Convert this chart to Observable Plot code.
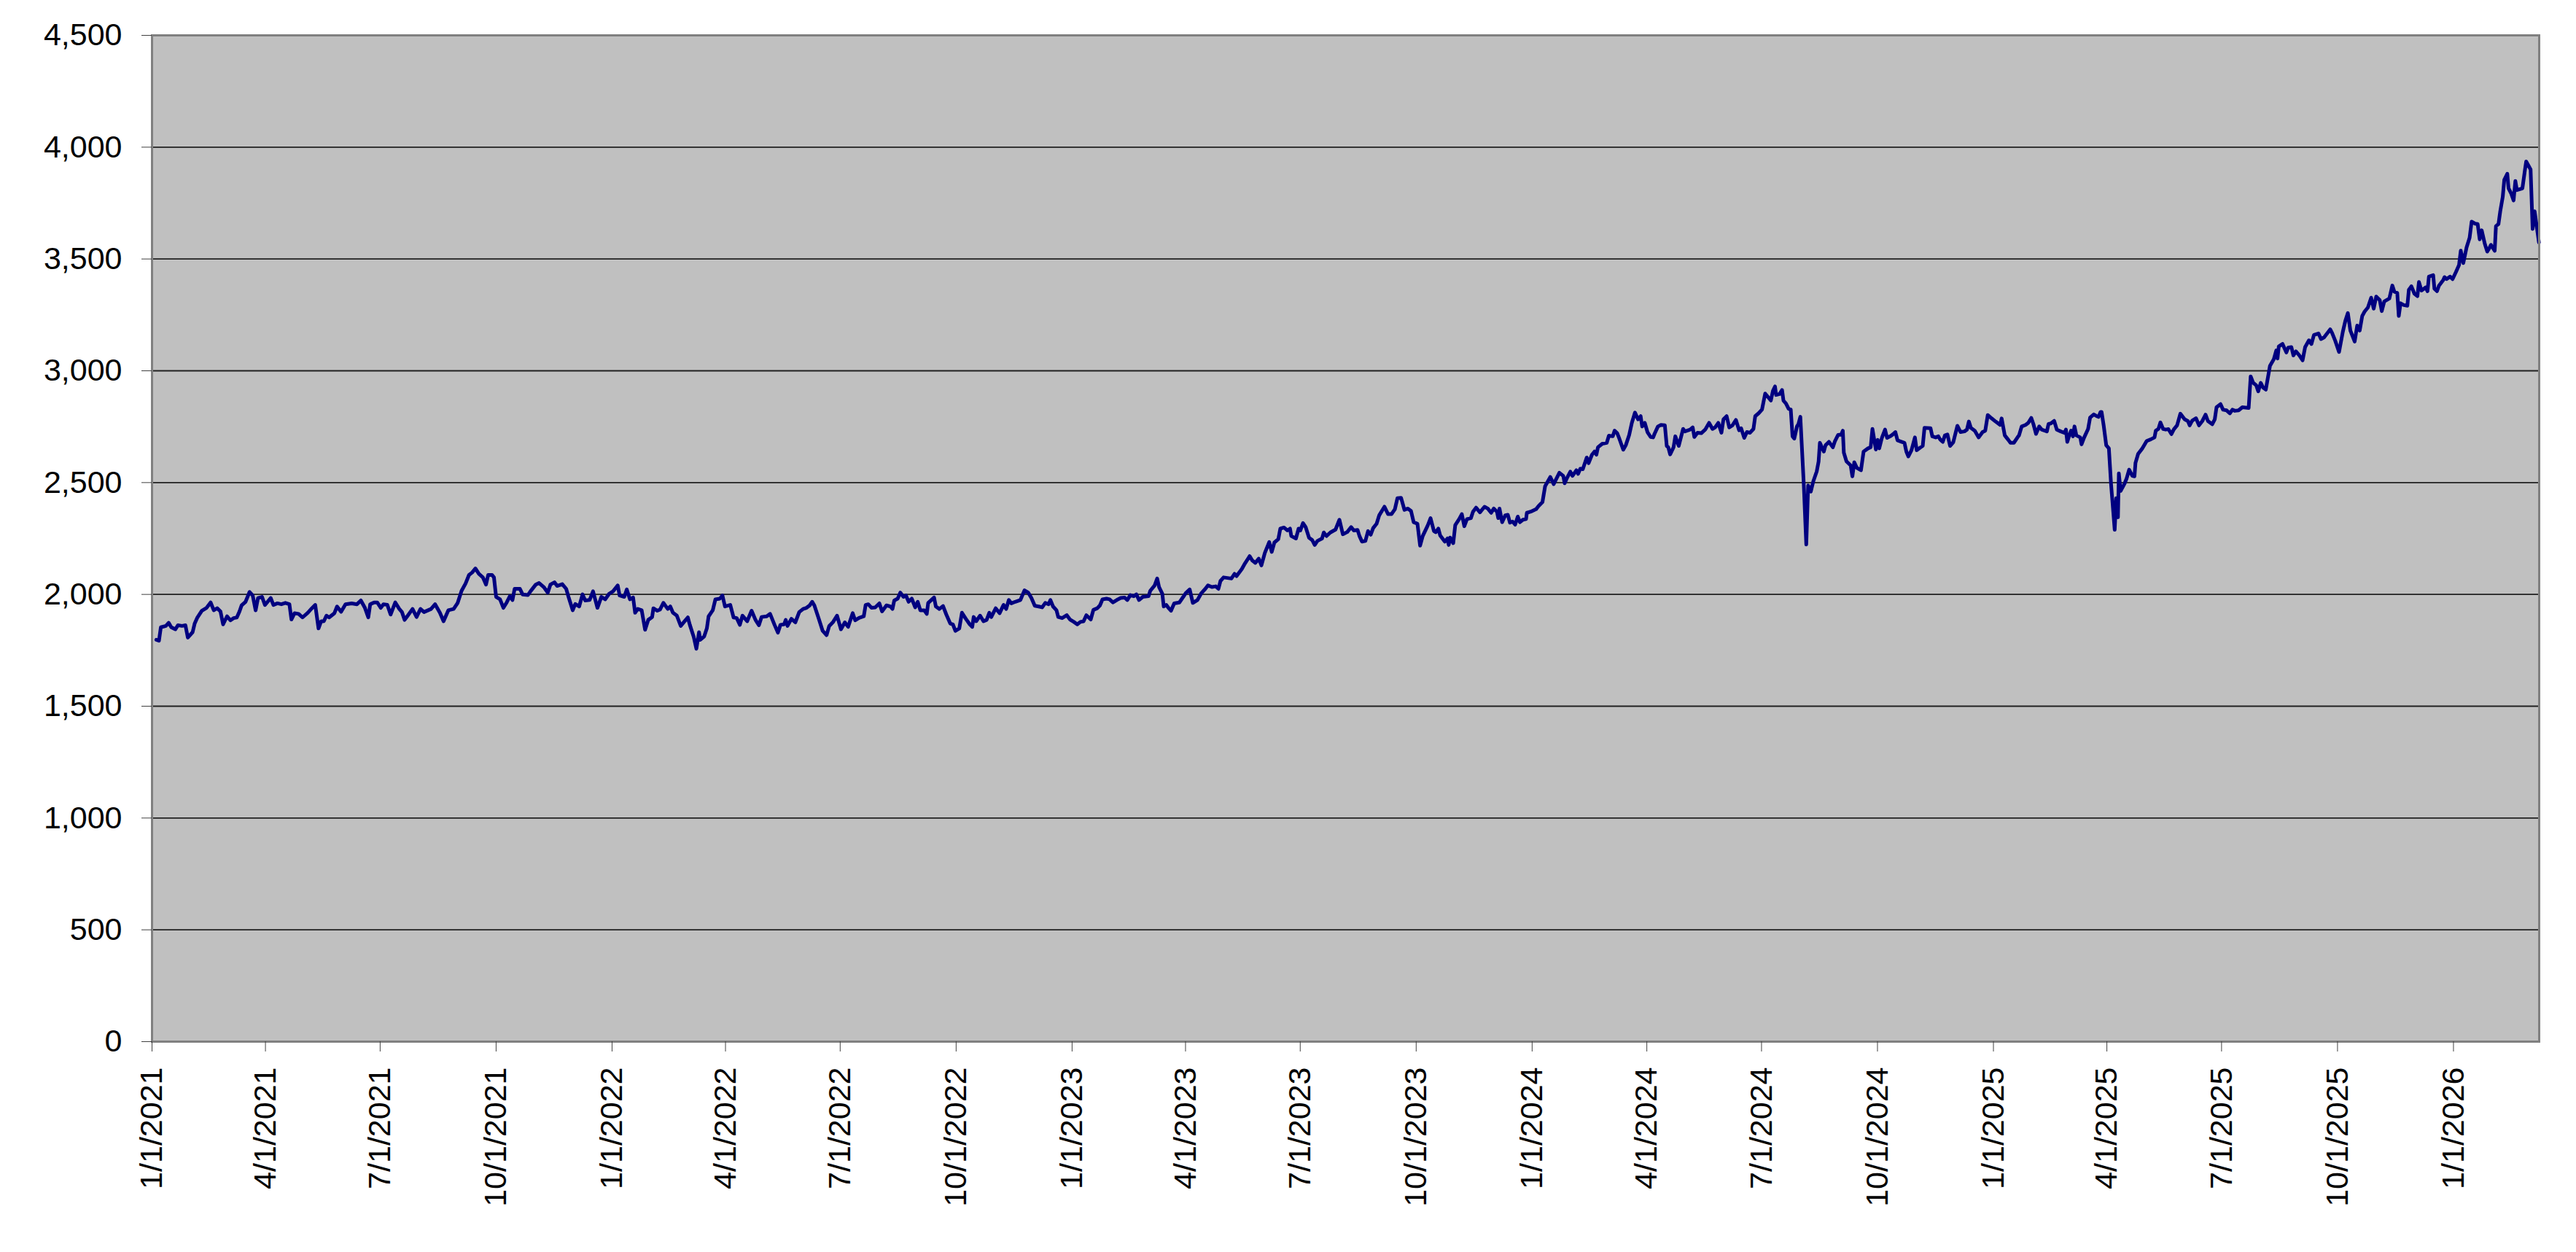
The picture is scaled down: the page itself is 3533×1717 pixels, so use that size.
<!DOCTYPE html>
<html><head><meta charset="utf-8">
<script src="https://cdn.jsdelivr.net/npm/d3@7"></script>
<script src="https://cdn.jsdelivr.net/npm/@observablehq/plot@0.6"></script>
<style>html,body{margin:0;padding:0;background:#fff;}</style>
</head><body><div id="chart"></div>
<script>
const startDate = "2021-01-01";
const endDate = "2026-03-10";

const dayOffsets = [
3.4,5.5,7,11,13.2,15.3,18.5,20.6,23.8,26.5,28.4,32.2,33.8,36,39.5,43.3,46.5,49,51.7,54.3,56.4,59.5,62.2,64.8,67.3,69.4,71.1,74.2,77.4,79.9,82.2,84.1,87.3,89.6,94.2,96.3,99.5,102.6,105.8,109,110.6,113.1,116.3,119.4,123.6,126.8,129.5,132.1,134.2,136.3,138.4,140.5,144.7,146.8,150,153.5,158.4,162.6,165.7,168.9,171.6,173.1,176.2,178.7,181.5,183.6,186.7,189.3,193,196.2,198.3,200.4,202.5,206.7,209.9,213,215.8,221.4,224.6,228.4,231.3,235.1,239.3,242.5,245.6,248.8,251.5,254,256.6,259.3,262.5,265,266.7,269.8,271.3,273,276.1,278.8,281.4,283.9,286,287.7,291.9,294,298.2,300.3,304.5,307.1,310.8,314,316.1,
319.3,321.4,325.5,328.6,330.7,333.8,335.8,338.9,341.6,343.7,347.2,349.9,353.4,356.5,359.6,362.7,365.8,369.5,371,374.7,376.7,379.2,381.7,383.3,385.4,388.5,391.2,393.7,396.8,397.8,400.9,403,405.7,409.2,411.2,413.3,416.4,419.5,422.6,425.1,426.7,429.8,431.9,434,435,438.1,440.2,441.6,444.9,447,450.5,452.6,454.6,458.8,461.4,463.9,466.4,468.5,472.2,475.7,478.8,481.5,483.6,487.7,490.4,493.9,496.6,498.6,501.5,502.8,504.2,507.3,510.4,513.5,516.6,519.3,521.8,523.8,525.5,529,532.1,535.2,537.3,540.4,543.5,546.6,549.7,552.3,555.9,557.9,561,564.7,566.2,568.3,570.9,573.8,577.1,579.2,582.7,585.8,587.5,588.9,591.6,593.7,596.2,598.2,600.3,602.8,605.5,607.5,609.6,612.7,614.7,615.8,620.5,621.9,624.7,627.6,630.2,633.3,635.4,637.4,
640.5,642.6,645.7,648.8,650.8,651.9,653.9,657,659.7,662.2,664.3,665.9,669.4,672.5,675.6,677.7,679.8,681.8,684.9,689,692.2,695.2,697.7,700.4,703.5,706.2,708.7,711.4,712.8,714.9,717.6,719,722.1,725.8,728.3,731.4,734.1,736.6,739.1,741.3,744.8,746.9,750,752.1,754.1,757.3,759.7,762.4,765.5,768.6,771.7,773.8,776.2,778.9,781,783.1,786.1,790.7,792,795.5,797.5,799,801.6,802.7,804.7,806.4,808.5,811,815.1,818.2,820.2,823.3,825.8,829.5,832.6,835.7,837.8,840.9,844,846.1,847.7,850.2,856.4,858.9,860.5,864.7,867.1,870.9,872.9,875.4,878.1,880.2,882.9,886.4,888.4,890.5,893.6,895.2,898.1,900.8,902.9,903.9,907.6,909.7,911.1,913.2,915.3,918,920.5,922.5,924.6,928.3,929.7,931.8,934.9,939,942.1,944.8,948.3,951.4,953.5,
956.5,958,960,962.7,964.8,966.9,968.9,971.6,973.7,977.8,980.7,983.4,986.1,988.1,991,993.7,996.4,998.9,1001,1004,1006.1,1008.2,1012.3,1014.4,1017.1,1018.5,1020.6,1022,1025.7,1027.8,1028.8,1029.9,1032.4,1034,1037.1,1039.2,1041.2,1043.3,1046.4,1048.1,1050.5,1053.6,1057.2,1059.8,1062.5,1064.6,1067.1,1068.1,1069.1,1071.2,1073.7,1075.7,1077.4,1079.5,1081.5,1083.6,1085.3,1087.7,1090.2,1090.8,1093.9,1098.1,1100.1,1103.2,1105.3,1109.4,1112.1,1114.2,1116.6,1119.7,1120.8,1122.8,1125.3,1127,1130.1,1131.5,1133.2,1135.2,1138.3,1139.8,1142.5,1144.5,1146,1147.2,1150.7,1154.2,1155.9,1159,1160.4,1162.5,1164.2,1167.3,1169.3,1172,1174.1,1176.6,1179,1181.1,1182.3,1184.4,1186.5,1189,1191,1192.1,1194.8,1197.2,1200.3,1201.8,1203,1204.5,1207.2,1208.6,1211.3,1214.8,1216.2,1220.4,1222.4,1223.7,1226.2,1229.2,1232.3,1235.4,1238.1,1240.2,1242.7,1245.2,1246.8,1249.3,1251.4,1253.9,1256.7,1259.2,1260.8,1263.3,1265.4,1267.9,1270.6,1272,1274.7,1277.4,
1279.9,1282.4,1284.4,1286.1,1287.7,1288.6,1291.3,1293.3,1294.4,1296.4,1298.5,1300.2,1301.6,1303,1305.1,1306.3,1307.8,1310.5,1312.5,1314,1316.1,1318.1,1320.8,1322.3,1323.3,1326.4,1327.8,1330.5,1333.6,1335.3,1337.7,1340.2,1341.5,1342.3,1344.4,1347.7,1349.1,1350.6,1352.6,1355.9,1358,1361.5,1363.6,1365,1367.7,1369.2,1370.4,1372.5,1375,1376.6,1379.1,1381.1,1383.2,1384.9,1388.4,1390.4,1391.9,1393.5,1396,1398.7,1400.1,1402.8,1404.9,1406.3,1411.1,1412.5,1415.2,1417.3,1418.7,1420.8,1422.5,1424.5,1426.6,1429.1,1432.4,1434.9,1438,1440,1441.5,1443.1,1446.2,1449.3,1452.4,1454.5,1456.5,1459.6,1462.7,1466.3,1467.5,1470,1473.1,1474.5,1477.2,1480.3,1481.3,1483.4,1486.5,1488.6,1491,1492.7,1494.8,1497.3,1499.3,1503.4,1504.7,1506.7,1509.2,1511.3,1514.4,1517.5,1518.5,1519.6,1521.2,1522.6,1524.1,1525.3,1526.8,1529.9,1530.9,1533,1536.1,1537.7,1540.6,1542.7,1544.4,1546,1546.8,1548.5,1550.5,1552.6,1554.3,1557.2,1558.4,1559.8,1560.5,1561.9,1565,1566.7,1568.7,1571.2,1572.9,1573.7,1575.8,1579.1,1582.6,1585.7,1588.8,1589.8,1591.9,1593.5,1595.6,1597.7,
1599.8,1602.2,1604.2,1606.7,1609.3,1612.7,1615.3,1616.7,1618.7,1621.7,1624.1,1626.7,1629.3,1631.2,1634.6,1636.6,1638,1641.2,1643.2,1646,1648.6,1650.6,1652.6,1655.5,1658.5,1663.5,1665.1,1667.1,1669.5,1671.1,1673.1,1675.1,1677.1,1680.4,1683.4,1685.4,1686.4,1687.4,1690.4,1693.4,1694.9,1697.4,1699,1701,1703.7,1706.3,1708.3,1711.3,1713.3,1715.3,1718.9,1720.9,1723.3,1728.2,1729.7,1732.2,1735.2,1738.2,1740.2,1742.2,1744.2,1747.6,1749.6,1751.6,1753.6,1755.5,1758.1,1760.7,1762.7,1764.7,1767.5,1769.1,1771.1,1775.1,1777.5,1779.1,1781.4,1782.6,1784,1786.6,1789.4,1790.6,1792.6,1795,1797.4,1798.6,1800.6,1804,1805.4,1806.5,1809.9,1810.9,1812.9,1814.5,1817.9,1818.9,1820.5,1823.3,1825.3,1827.9,1830.4,1831.8,1833.8,1836.4,1838.8,1840.4,1843.2,1845.2,1846.8,1848.4,1850.8,1852.8,1854.3,1855.7,1858.7,1859.7,1861.7,1863.1,1865.1,1866.3,1868.7,1869.7,1871.7,1873.7,1875.1,1876.3,1880.7,1882.7,1883.7,1887.2,1888.8,1890.4,1893.8
];

const values = [
1797,1793,1853,1859,1873,1853,1844,1862,1859,1862,1807,1831,1869,1897,1927,1940,1964,1929,1938,1924,1866,1902,1884,1894,1897,1924,1951,1967,2011,1995,1929,1984,1989,1953,1984,1953,1960,1956,1962,1956,1888,1916,1913,1897,1918,1938,1953,1848,1880,1880,1905,1897,1916,1946,1922,1956,1960,1956,1973,1940,1897,1956,1964,1964,1940,1956,1953,1910,1964,1935,1921,1886,1902,1935,1899,1935,1921,1935,1956,1918,1880,1929,1935,1962,2016,2049,2087,2098,2116,2092,2076,2044,2087,2087,2076,1989,1978,1940,1964,1992,1975,2025,2025,2000,1997,2014,2044,2051,2033,2008,2044,
2054,2038,2046,2025,1984,1929,1957,1946,2000,1973,1975,2014,1940,1989,1978,2003,2014,2040,1995,1989,2022,1978,1986,1918,1935,1929,1842,1886,1899,1938,1927,1932,1962,1935,1946,1918,1905,1859,1880,1897,1864,1810,1757,1831,1797,1812,1848,1902,1929,1978,1981,1995,1946,1953,1897,1894,1864,1905,1880,1927,1886,1862,1899,1902,1913,1864,1829,1864,1866,1886,1859,1891,1875,1921,1935,1940,1951,1967,1951,1891,1837,1818,1859,1877,1905,1844,1875,1855,1916,1884,1895,1902,1953,1956,1940,1942,1960,1924,1951,1946,1935,1973,1981,2008,1989,1995,1967,1981,1942,1967,1929,1929,1913,1962,1986,1946,1935,1948,1910,1870,1866,1837,
1848,1918,1891,1866,1855,1899,1880,1905,1880,1886,1918,1899,1938,1916,1953,1935,1975,1960,1967,1975,2018,2008,1984,1949,1946,1942,1962,1956,1975,1946,1929,1899,1894,1907,1888,1877,1866,1877,1880,1907,1888,1931,1938,1951,1978,1981,1978,1964,1975,1984,1986,1975,1997,1992,2000,1975,1989,1992,2016,2040,2071,2033,2003,1946,1953,1940,1927,1960,1964,1989,2006,2022,1962,1975,2006,2025,2040,2033,2036,2025,2060,2076,2071,2092,2082,2114,2138,2171,2152,2141,2160,2130,2185,2234,2190,2232,2247,2294,2299,2286,2294,2261,2250,2294,2286,2319,2301,2253,2243,2221,2239,2250,2277,2261,2277,2290,2334,2269,2279,2301,2286,
2288,2261,2236,2239,2283,2267,2297,2316,2354,2392,2359,2359,2381,2430,2432,2378,2384,2373,2323,2316,2218,2261,2310,2341,2283,2278,2294,2264,2236,2250,2221,2254,2229,2310,2337,2359,2305,2337,2341,2370,2388,2367,2392,2384,2365,2384,2370,2341,2384,2323,2354,2356,2321,2326,2312,2348,2323,2334,2337,2365,2370,2381,2395,2413,2484,2525,2493,2517,2544,2530,2497,2522,2549,2530,2555,2539,2562,2560,2612,2587,2625,2639,2625,2658,2674,2678,2710,2707,2732,2721,2696,2647,2667,2713,2767,2813,2783,2797,2751,2767,2726,2704,2702,2718,2751,2758,2756,2664,2658,2626,2658,2707,2664,2740,2729,2737,2747,2704,2723,2721,2737,2767,2740,2747,2767,2723,2783,2797,2747,2756,2780,2734,2743,2700,2726,2723,2740,2797,2810,2827,
2898,2881,2867,2911,2930,2892,2896,2914,2867,2854,2830,2827,2707,2697,2751,2762,2794,2495,2223,2487,2460,2506,2550,2595,2678,2639,2667,2682,2658,2686,2713,2715,2732,2634,2595,2577,2528,2591,2566,2555,2639,2653,2658,2740,2648,2691,2653,2700,2737,2700,2707,2715,2726,2689,2682,2678,2639,2617,2645,2702,2645,2656,2664,2745,2743,2707,2702,2707,2693,2682,2711,2715,2664,2680,2754,2726,2729,2737,2773,2745,2732,2702,2726,2732,2802,2787,2773,2758,2787,2711,2689,2678,2678,2704,2711,2751,2758,2767,2789,2762,2718,2751,2737,2729,2762,2765,2776,2737,2729,2722,2737,2682,2711,2732,2707,2751,2711,2702,2671,2702,2740,2791,2805,2798,2794,2816,2816,2754,2667,2653,2495,2289,2430,2345,2541,2463,2495,2519,2558,2530,2528,2588,2628,2653,2686,2693,2702,2732,2740,2769,2740,2737,
2739,2717,2739,2756,2808,2783,2775,2756,2777,2788,2756,2775,2804,2775,2761,2783,2837,2851,2826,2823,2810,2826,2821,2823,2837,2834,2975,2946,2935,2908,2946,2924,2916,3022,3051,3091,3055,3109,3120,3082,3104,3106,3069,3087,3069,3047,3106,3136,3120,3160,3167,3142,3149,3185,3169,3134,3084,3174,3223,3258,3180,3131,3202,3180,3245,3265,3283,3327,3278,3332,3316,3267,3310,3323,3381,3354,3348,3245,3302,3294,3291,3362,3378,3345,3334,3397,3359,3373,3356,3421,3428,3367,3356,3381,3406,3419,3410,3421,3410,3441,3473,3537,3482,3552,3595,3667,3658,3656,3588,3628,3569,3533,3547,3563,3537,3647,3656,3713,3778,3854,3881,3816,3794,3762,3849,3808,3816,3898,3936,3900,3634,3713,3574
];

const xTickLabels = ["1/1/2021","4/1/2021","7/1/2021","10/1/2021","1/1/2022","4/1/2022","7/1/2022","10/1/2022","1/1/2023","4/1/2023","7/1/2023","10/1/2023","1/1/2024","4/1/2024","7/1/2024","10/1/2024","1/1/2025","4/1/2025","7/1/2025","10/1/2025","1/1/2026"];
const yTicks = [0,500,1000,1500,2000,2500,3000,3500,4000,4500];

const parseISO = d3.utcParse("%Y-%m-%d");
const parseMDY = d3.utcParse("%m/%d/%Y");
const t0 = parseISO(startDate);
const tEnd = parseISO(endDate);
const n = Math.min(dayOffsets.length, values.length);
const data = d3.range(n).map(i => ({date: new Date(t0.getTime() + dayOffsets[i] * 864e5), value: values[i]}));
const xTicks = xTickLabels.map(s => parseMDY(s));
const fmtDate = d3.utcFormat("%-m/%-d/%Y");

const chart = Plot.plot({
  width: 3533, height: 1717,
  marginLeft: 208, marginRight: 51, marginTop: 48, marginBottom: 289,
  style: {fontFamily: "'Liberation Sans', Arial, sans-serif", fontSize: "43px", background: "#fff", color: "#000", overflow: "visible"},
  x: {type: "utc", domain: [t0, tEnd]},
  y: {domain: [0, 4500]},
  marks: [
    Plot.frame({fill: "#c0c0c0", stroke: null}),
    Plot.gridY(yTicks.filter(v => v > 0 && v < 4500), {stroke: "#202020", strokeOpacity: 1, strokeWidth: 1.8}),
    Plot.lineY(data, {x: "date", y: "value", stroke: "#000080", strokeWidth: 5, strokeLinejoin: "round"}),
    Plot.frame({stroke: "#808080", strokeWidth: 3}),
    Plot.axisY(yTicks, {tickSize: 14, tickPadding: 27, tickFormat: d3.format(","), fontSize: 43, stroke: "#404040", label: null}),
    Plot.axisX(xTicks, {tickSize: 14, tickPadding: 21, tickRotate: -90, tickFormat: fmtDate, fontSize: 43, stroke: "#404040", label: null})
  ]
});
document.getElementById("chart").appendChild(chart);
</script>
</body></html>
